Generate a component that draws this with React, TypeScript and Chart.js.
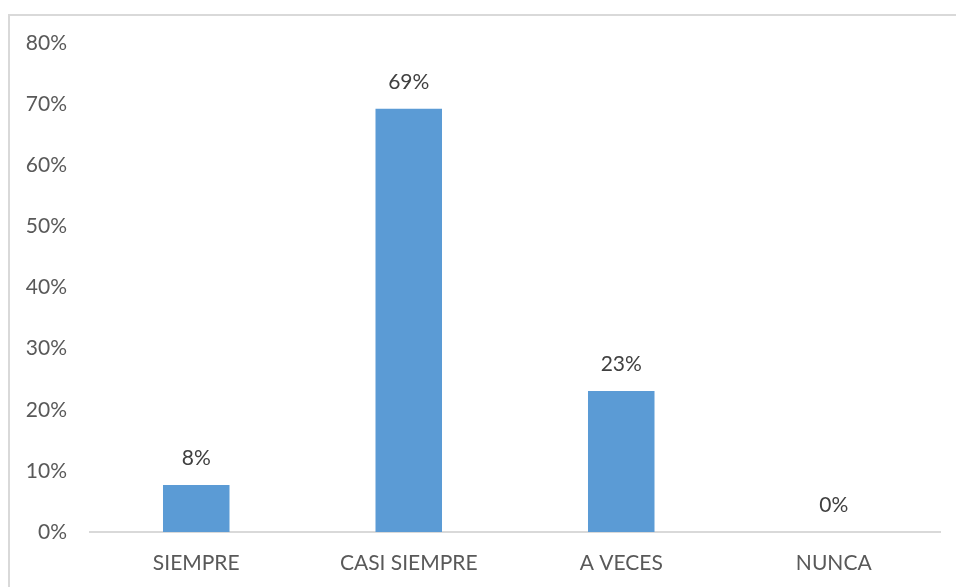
import React, { useEffect, useRef } from "react";
import { Chart, registerables } from "chart.js";

Chart.register(...registerables);

const categories = ["SIEMPRE", "CASI SIEMPRE", "A VECES", "NUNCA"];
const values = [0.0769, 0.6923, 0.2308, 0];
const yTicks = [0, 0.1, 0.2, 0.3, 0.4, 0.5, 0.6, 0.7, 0.8];

const FONT = "Lato, 'Open Sans', sans-serif";

const dataLabels = {
  id: "dataLabels",
  afterDatasetsDraw(chart: any) {
    const ctx = chart.ctx;
    const meta = chart.getDatasetMeta(0);
    ctx.save();
    ctx.font = `21px ${FONT}`;
    ctx.fillStyle = "#404040";
    ctx.textAlign = "center";
    ctx.textBaseline = "bottom";
    meta.data.forEach((bar: any, i: number) => {
      const v = chart.data.datasets[0].data[i] as number;
      ctx.fillText(Math.round(v * 100) + "%", bar.x, bar.y - 16);
    });
    ctx.restore();
  },
};

export default function App() {
  const ref = useRef<HTMLCanvasElement>(null);
  useEffect(() => {
    const chart = new Chart(ref.current!, {
      type: "bar",
      data: {
        labels: categories,
        datasets: [
          {
            data: values,
            backgroundColor: "#5B9BD5",
            barPercentage: 0.313,
            categoryPercentage: 1,
          },
        ],
      },
      options: {
        animation: false,
        responsive: false,
        devicePixelRatio: 1,
        layout: { padding: { top: 27, right: 16, left: 0, bottom: 0 } },
        plugins: { legend: { display: false }, tooltip: { enabled: false } },
        scales: {
          x: {
            grid: { display: false },
            border: { display: true, color: "#D9D9D9", width: 2 },
            ticks: {
              color: "#595959",
              font: { family: FONT, size: 21 },
              padding: 11,
            },
            afterFit(scale: any) {
              scale.height = 55;
              scale.paddingLeft = 0;
              scale.paddingRight = 0;
            },
          },
          y: {
            min: 0,
            max: 0.8,
            afterBuildTicks(scale: any) {
              scale.ticks = yTicks.map((v) => ({ value: v }));
            },
            grid: { display: false, drawTicks: false },
            border: { display: false },
            ticks: {
              color: "#595959",
              font: { family: FONT, size: 21 },
              padding: 23,
              callback: (v: any) => Math.round(Number(v) * 100) + "%",
            },
            afterFit(scale: any) {
              scale.width = 80;
              scale.paddingTop = 0;
              scale.paddingBottom = 0;
            },
          },
        },
      },
      plugins: [dataLabels],
    });
    return () => chart.destroy();
  }, []);
  return (
    <div
      style={{
        position: "absolute",
        left: 8,
        top: 14,
        width: 948,
        height: 573,
        boxSizing: "border-box",
        borderTop: "2px solid #D9D9D9",
        borderLeft: "2px solid #D9D9D9",
        background: "#fff",
        overflow: "hidden",
      }}
    >
      <canvas ref={ref} width={946} height={571} style={{ display: "block" }} />
    </div>
  );
}
